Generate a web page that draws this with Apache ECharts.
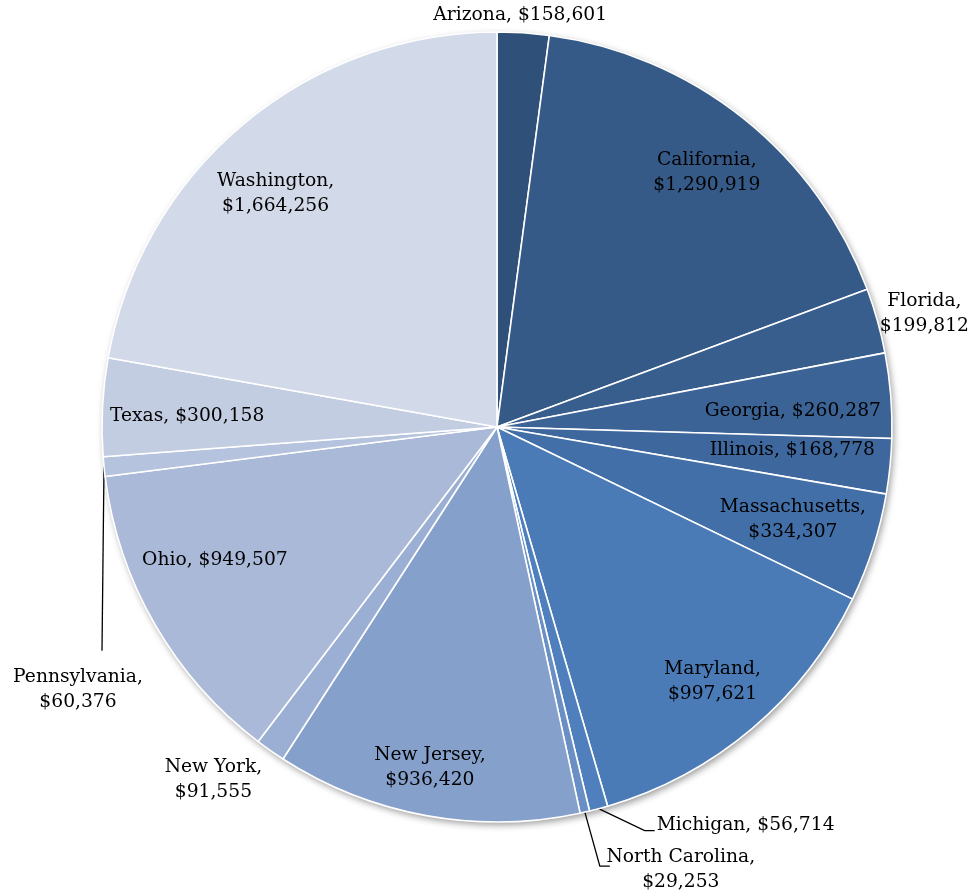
<!DOCTYPE html>
<html>
<head>
<meta charset="utf-8">
<script src="https://cdn.jsdelivr.net/npm/echarts@6/dist/echarts.min.js"></script>
<style>
html,body{margin:0;padding:0;background:#fff;}
#chart{width:969px;height:896px;}
</style>
</head>
<body>
<div id="chart"></div>
<script>
var states = ['Arizona','California','Florida','Georgia','Illinois','Massachusetts','Maryland','Michigan','North Carolina','New Jersey','New York','Ohio','Pennsylvania','Texas','Washington'];
var amounts = [158601,1290919,199812,260287,168778,334307,997621,56714,29253,936420,91555,949507,60376,300158,1664256];
var sliceColors = ['#2f5078','#365a87','#385e8e','#3b6396','#3e689d','#426fa8','#4a7bb6','#4f80bd','#6a8fc5','#84a0cb','#9aafd3','#a9b9d7','#b5c3de','#c3cde2','#d2d9e9'];

// label layout (styles, separate from data)
var CX = 497, CY = 427, R = 395;
var twoLine = {'California':1,'Florida':1,'Massachusetts':1,'Maryland':1,'North Carolina':1,'New Jersey':1,'New York':1,'Pennsylvania':1,'Washington':1};
var place = {
  'Arizona':       {dx:-3, dy:-18},
  'California':    {r:0.835, da:0.9},
  'Florida':       {dx:47, dy:-7},
  'Georgia':       {r:0.75, da:1.5},
  'Illinois':      {r:0.75, da:-1.2},
  'Massachusetts': {r:0.785, da:-0.4},
  'Maryland':      {r:0.845},
  'Michigan':      {dx:58, dy:16, align:'left', line:[[46,22],[56,22]]},
  'North Carolina':{dx:96, dy:58, line:[[15,54],[25,54]]},
  'New Jersey':    {r:0.88, da:0.8},
  'New York':      {dx:-57, dy:29},
  'Ohio':          {r:0.79, da:4.7},
  'Pennsylvania':  {dx:-26, dy:223, line:[[-2,184]]},
  'Texas':         {r:0.785, da:-0.8},
  'Washington':    {r:0.815, da:-3.5}
};

var total = amounts.reduce(function(a,b){return a+b;},0);
var midAngles = [];
(function(){ var c=0; for (var i=0;i<amounts.length;i++){ var a=amounts[i]/total*360; midAngles.push(c+a/2); c+=a; } })();

function fmt(v){ return '$' + String(v).replace(/\B(?=(\d{3})+(?!\d))/g, ','); }

var pieData = states.map(function(s,i){
  var L = place[s];
  return {
    name: s, value: amounts[i],
    itemStyle: {color: sliceColors[i]},
    labelLine: {show: !!L.line}
  };
});

var chart = echarts.init(document.getElementById('chart'));
chart.setOption({
  animation: false,
  backgroundColor: '#fff',
  series: [
    {
      type: 'pie', silent: true, center: [CX, CY], radius: R, z: 1,
      label: {show:false}, labelLine:{show:false},
      data: [{value:1, itemStyle:{color:'#fff', shadowBlur:7, shadowColor:'rgba(0,0,0,0.4)', shadowOffsetX:2, shadowOffsetY:3}}]
    },
    {
      type: 'pie', center: [CX, CY], radius: R, z: 2,
      startAngle: 90, clockwise: true, avoidLabelOverlap: false,
      itemStyle: {borderColor:'#fff', borderWidth:1.6},
      label: {
        show: true, position: 'outside', color: '#000',
        fontFamily: 'DejaVu Serif', fontSize: 18.7, lineHeight: 25,
        formatter: function(p){ return p.name + (twoLine[p.name] ? ',\n' : ', ') + fmt(p.value); }
      },
      labelLine: {lineStyle: {color:'#000', width:1.3}},
      labelLayout: function(p){
        var i = p.dataIndex, L = place[states[i]];
        var a = (midAngles[i] + (L.da||0)) * Math.PI / 180;
        var ex = CX + R*Math.sin(a), ey = CY - R*Math.cos(a);
        if (L.r) {
          return {x: CX + L.r*R*Math.sin(a), y: CY - L.r*R*Math.cos(a), align:'center', verticalAlign:'middle'};
        }
        var res = {x: ex + L.dx, y: ey + L.dy, align: L.align || 'center', verticalAlign: 'middle'};
        if (L.line) {
          res.labelLinePoints = [[ex, ey]].concat(L.line.map(function(o){ return [ex+o[0], ey+o[1]]; }));
        }
        return res;
      },
      data: pieData
    }
  ]
});
</script>
</body>
</html>
